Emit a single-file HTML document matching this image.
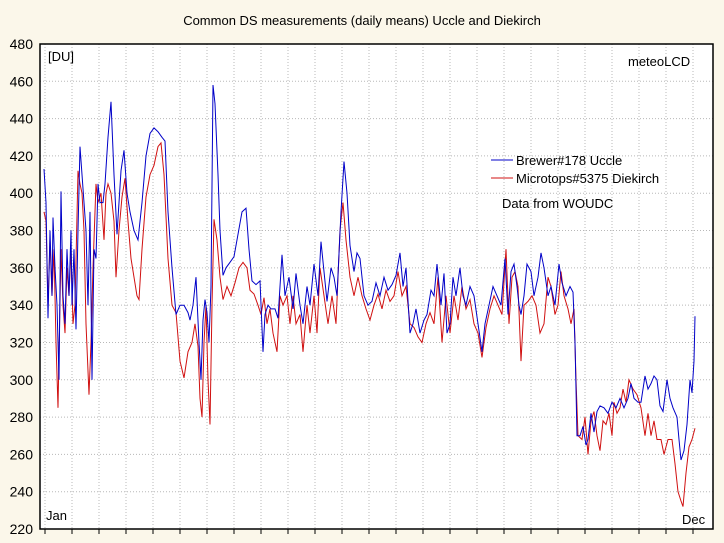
<!DOCTYPE html>
<html><head><meta charset="utf-8"><style>
html,body{margin:0;padding:0;background:#fbf7ea;}
svg{display:block;font-family:"Liberation Sans",sans-serif;}
</style></head><body>
<svg id="s" width="724" height="543" xmlns="http://www.w3.org/2000/svg">
<rect width="724" height="543" fill="#fbf7ea"/>
<rect x="40" y="44" width="673" height="485" fill="#ffffff"/>
<g id="grid" stroke="#b8b8b8" stroke-width="1" stroke-dasharray="1,2"></g>
<text x="362" y="25" font-size="13" text-anchor="middle" fill="#000">Common DS measurements (daily means) Uccle and Diekirch</text>
<g id="yl" font-size="14" fill="#000" text-anchor="end"></g>
<text x="48" y="61" font-size="13">[DU]</text>
<text x="628" y="66" font-size="13">meteoLCD</text>
<text x="46" y="520" font-size="13">Jan</text>
<text x="682" y="524" font-size="13">Dec</text>
<polyline id="red" fill="none" stroke="#d01010" stroke-width="1"/>
<polyline id="blue" fill="none" stroke="#0000c8" stroke-width="1"/>
<line x1="491" y1="160" x2="513" y2="160" stroke="#0000c8"/>
<line x1="491" y1="178" x2="513" y2="178" stroke="#d01010"/>
<text x="516" y="165" font-size="13">Brewer#178 Uccle</text>
<text x="516" y="183" font-size="13">Microtops#5375 Diekirch</text>
<text x="502" y="208" font-size="13">Data from WOUDC</text>
<rect x="40" y="44" width="673" height="485" fill="none" stroke="#000" stroke-width="1.5"/>
<g id="ticks" stroke="#000"></g>
</svg>
<script>
var Y=function(v){return 529-(v-220)*485/260;};
var g=document.getElementById('grid'),yl=document.getElementById('yl'),tk=document.getElementById('ticks'),ns='http://www.w3.org/2000/svg';
function el(p,t,a){var e=document.createElementNS(ns,t);for(var k in a)e.setAttribute(k,a[k]);p.appendChild(e);return e;}
for(var v=240;v<480;v+=20){el(g,'line',{x1:40,x2:713,y1:Y(v),y2:Y(v)});}
for(var v=220;v<=480;v+=20){var t=el(yl,'text',{x:33,y:Y(v)+5});t.textContent=v;}
for(var k=0;k<25;k++){var x=45+27*k;el(g,'line',{x1:x,x2:x,y1:44,y2:529});el(tk,'line',{x1:x,x2:x,y1:529,y2:534});}
var B=[44,413,46,395,48,333,50,380,52,345,53,387,55,360,57,340,59,300,61,401,63,345,65,330,67,370,69,345,71,380,72,340,74,370,76,327,78,380,80,425,82,410,84,395,86,380,88,340,90,390,92,300,94,370,96,365,98,405,100,395,103,395,105,405,108,430,111,449,114,410,117,378,121,412,124,423,127,400,130,390,134,380,138,375,142,395,146,420,150,432,154,435,158,433,162,430,165,428,168,390,172,360,176,335,180,340,184,340,188,336,190,332,193,340,196,355,199,320,201,300,203,332,205,343,207,336,209,320,211,350,213,458,215,448,218,410,220,380,223,356,226,360,230,363,234,366,238,378,242,390,246,392,249,370,252,353,256,351,260,353,263,315,265,335,268,340,271,338,275,338,278,333,282,367,285,345,289,355,293,338,296,357,300,340,303,330,307,350,310,340,314,362,318,345,321,374,324,358,327,342,331,360,334,355,337,345,341,390,344,417,347,400,350,372,354,358,357,368,360,365,364,345,368,340,372,342,376,352,380,345,384,355,388,348,392,351,396,356,400,368,403,350,406,360,410,325,413,330,416,338,420,325,424,332,427,335,431,348,434,345,437,362,441,340,444,357,447,325,450,330,453,355,456,345,460,360,463,345,466,340,470,350,474,345,478,330,482,315,485,330,489,340,493,350,497,345,501,340,505,365,508,335,511,358,514,362,517,350,519,340,521,335,524,345,527,362,531,358,534,345,538,355,541,368,544,360,548,345,551,350,555,340,559,362,562,352,566,345,570,350,573,347,575,320,577,270,580,270,583,275,586,265,588,268,591,282,594,272,597,283,600,286,604,285,608,282,612,288,616,285,620,290,624,285,628,290,631,298,634,290,638,288,641,288,645,302,648,295,651,298,654,302,657,300,660,286,663,283,667,300,670,290,673,285,677,280,679,268,681,257,684,262,687,276,690,300,692,293,694,310,695,334];
var R=[44,390,46,385,48,340,50,375,52,345,54,370,56,320,58,285,61,370,63,340,65,325,67,360,69,345,71,370,73,330,75,340,78,412,80,405,82,400,84,380,86,330,89,292,91,320,93,360,96,405,98,395,101,400,104,375,106,400,108,405,111,400,114,385,116,355,119,380,122,398,125,408,128,385,131,365,134,355,137,345,139,343,142,370,146,398,150,410,154,415,158,425,161,427,164,410,168,365,172,340,176,336,180,310,184,301,188,315,192,320,195,330,198,318,200,290,202,280,204,320,206,340,208,300,210,276,212,340,214,386,217,375,220,355,223,343,227,350,231,345,235,352,239,360,243,363,247,360,250,348,254,346,258,340,261,335,264,344,267,330,270,338,273,325,277,315,280,345,283,340,287,345,290,330,293,345,296,330,300,335,303,315,307,340,310,325,314,345,317,325,320,360,324,345,328,330,332,345,336,330,340,380,343,395,346,375,350,355,354,345,358,355,362,345,366,338,370,332,374,340,378,346,382,338,386,348,390,342,394,345,398,358,402,345,406,350,410,330,414,328,418,323,422,320,426,330,430,336,434,330,438,355,442,320,446,345,450,325,454,345,458,332,462,350,466,338,470,343,474,330,478,325,482,312,486,328,490,338,494,345,498,340,502,335,506,370,509,330,512,355,515,358,518,350,521,310,524,340,528,342,532,345,536,340,540,325,544,330,548,355,551,350,555,335,558,340,561,358,564,345,568,338,571,330,574,338,576,300,578,270,582,268,585,280,588,260,591,278,594,283,597,270,600,262,603,278,606,276,609,282,612,270,614,288,617,282,620,285,623,295,626,288,629,300,633,295,637,292,641,285,645,270,648,282,651,270,654,278,657,268,661,268,664,260,668,268,672,268,675,255,678,240,681,235,683,232,686,250,689,264,692,268,695,274];
function pts(a){var s=[];for(var i=0;i<a.length;i+=2)s.push(a[i]+','+Y(a[i+1]).toFixed(1));return s.join(' ');}
document.getElementById('blue').setAttribute('points',pts(B));
document.getElementById('red').setAttribute('points',pts(R));
</script>
</body></html>
